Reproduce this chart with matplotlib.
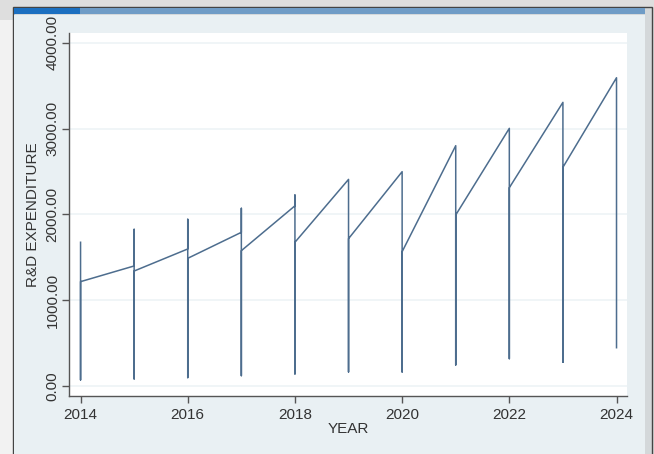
"""
Stata-style line plot of R&D expenditure by year (panel data, connected in data order).
"""

import matplotlib
matplotlib.use("Agg")
import matplotlib.pyplot as plt
from matplotlib.patches import Rectangle

plt.rcParams["font.family"] = ["Liberation Sans", "DejaVu Sans"]

# Observations in data order (several firms per year)
year = [2014, 2014, 2014,
        2015, 2015, 2015, 2015,
        2016, 2016, 2016, 2016,
        2017, 2017, 2017, 2017,
        2018, 2018, 2018, 2018,
        2019, 2019, 2019,
        2020, 2020, 2020,
        2021, 2021, 2021,
        2022, 2022, 2022,
        2023, 2023, 2023,
        2024, 2024]
rd_expenditure = [1675, 70, 1216,
                  1399, 1826, 82, 1340,
                  1597, 1943, 97, 1488,
                  1791, 2071, 120, 1577,
                  2100, 2226, 140, 1675,
                  2408, 163, 1717,
                  2498, 163, 1565,
                  2801, 245, 1993,
                  3003, 318, 2311,
                  3306, 276, 2549,
                  3593, 446]

y_ticks = [0, 1000, 2000, 3000, 4000]
x_ticks = [2014, 2016, 2018, 2020, 2022, 2024]

W, H = 654, 454
fig = plt.figure(figsize=(W / 100, H / 100), dpi=100)
fig.patch.set_facecolor("#dedede")


def px_rect(x0, y0, x1, y1, **kw):
    # rectangle given in pixel coords (origin top-left), drawn behind the axes
    fig.patches.append(Rectangle((x0 / W, 1 - y1 / H), (x1 - x0) / W, (y1 - y0) / H,
                                 transform=fig.transFigure, figure=fig, zorder=-10, **kw))


# window frame around the graph
px_rect(0, 20, 13, 454, facecolor="#f2f2f2", edgecolor="none")
px_rect(13, 7, 652, 460, facecolor="#d4d8da", edgecolor="#444444", linewidth=1)
px_rect(14, 15, 645, 460, facecolor="#e9f0f3", edgecolor="none")
px_rect(14, 8, 645, 14, facecolor="#6f9cc6", edgecolor="none")
px_rect(14, 8, 80, 14, facecolor="#1c6fc0", edgecolor="none")

ax = fig.add_axes([69.3 / W, 1 - 396 / H, (626.7 - 69.3) / W, (396 - 32.7) / H])
ax.set_facecolor("white")

ax.plot(year, rd_expenditure, color="#4d6d8e", linewidth=1.1)

ax.set_xlim(2013.79, 2024.19)
ax.set_ylim(-117, 4118)
ax.set_xticks(x_ticks)
ax.set_yticks(y_ticks)
ax.set_yticklabels([f"{v:.2f}" for v in y_ticks], rotation=90, va="center")
ax.grid(axis="y", color="#eef4f6", linewidth=1.2)
ax.set_axisbelow(True)

for side in ["top", "right"]:
    ax.spines[side].set_visible(False)
for side in ["left", "bottom"]:
    ax.spines[side].set_color("#555555")
    ax.spines[side].set_linewidth(1.0)

ax.tick_params(axis="both", colors="#555555", labelcolor="#333333",
               labelsize=11, length=5, width=1)
ax.tick_params(axis="y", pad=2)

ax.set_xlabel("YEAR", fontsize=11, color="#333333", labelpad=0)
ax.set_ylabel("R&D EXPENDITURE", fontsize=11, color="#333333", labelpad=4)

fig.savefig("out.png", dpi=100, facecolor=fig.get_facecolor())
